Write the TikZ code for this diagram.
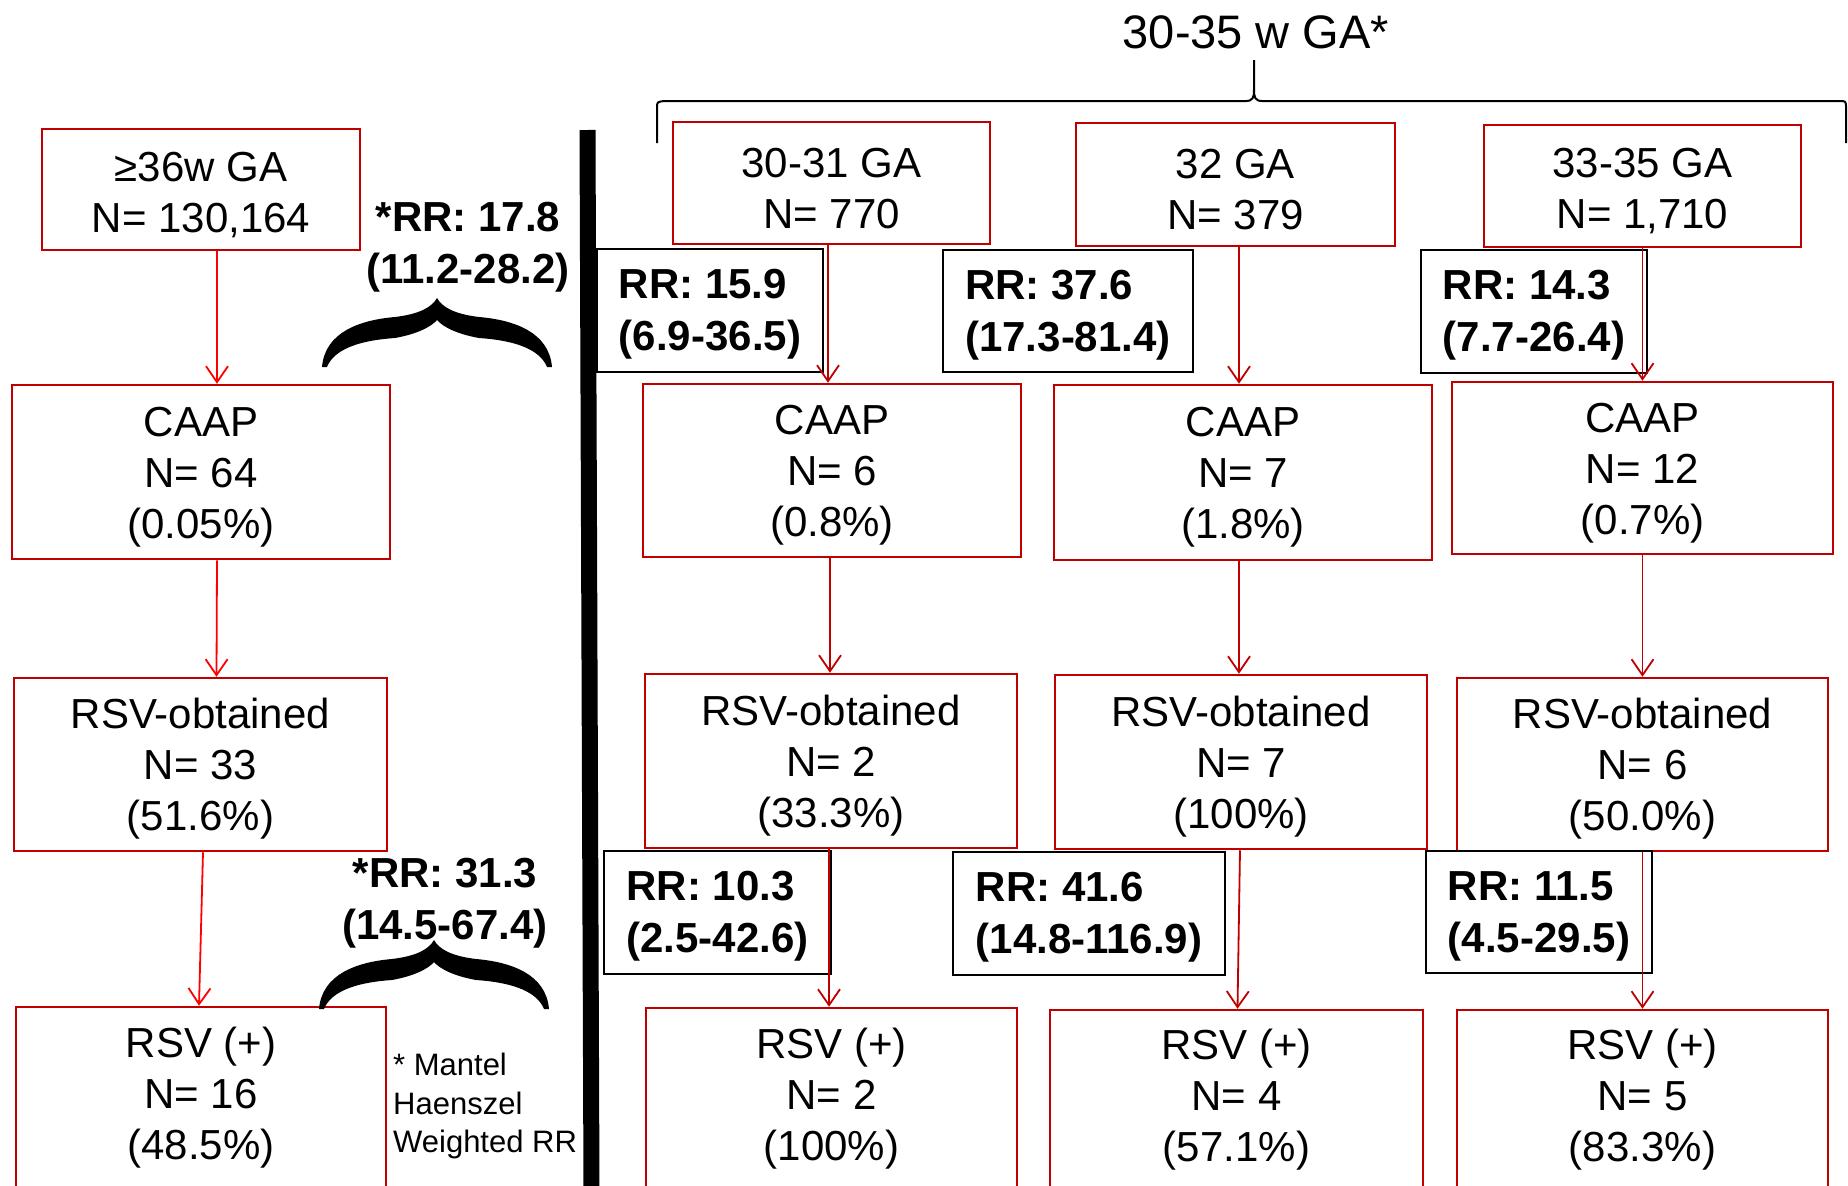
\documentclass[tikz,border=0pt]{standalone}
\usepackage{fontspec}
\setmainfont{Liberation Sans}
\usetikzlibrary{arrows.meta}
\definecolor{boxred}{RGB}{192,0,0}
\newcommand{\bxup}{\rule{0pt}{39.5pt}}
\newcommand{\rrup}{\rule{0pt}{37pt}}
\begin{document}
\begin{tikzpicture}[x=1pt,y=-1pt,
  box/.style={draw=boxred, line width=2.5pt, inner sep=0pt, align=center, font=\fontsize{42}{51}\selectfont},
  rrbox/.style={draw=black, line width=2pt, inner sep=0pt, align=left, font=\fontsize{42}{52}\selectfont\bfseries},
  rrlabel/.style={inner sep=0pt, align=center, font=\fontsize{42}{52}\selectfont\bfseries},
  arr/.style={draw=boxred, line width=1.8pt, -{Straight Barb[length=16pt,width=22pt]}},
  larr/.style={arr, draw=red},
  bw/.style 2 args={minimum width=#1pt, minimum height=#2pt},
  rrbrace/.pic={
    \fill (-115,68) .. controls (-112,33) and (-77,21) .. (-42,18)
      .. controls (-17,15) and (-5,8) .. (0,-1)
      .. controls (5,8) and (17,15) .. (42,18)
      .. controls (77,21) and (112,33) .. (115,68)
      -- (110,68) .. controls (102,48) and (72,41) .. (42,39)
      .. controls (20,35) and (6,28) .. (0,21)
      .. controls (-6,28) and (-20,35) .. (-42,39)
      .. controls (-72,41) and (-102,48) .. (-110,68) -- cycle;
  }
]
\useasboundingbox (0,0) rectangle (1848,1186);

% title and top brace
\node[font=\fontsize{47}{50}\selectfont, inner sep=0pt] (title) at (1256,32) {30-35 w GA*};
\draw[line width=2pt] (657,143) -- (657,108) .. controls (657,102) .. (664,101) -- (1246,101)
  .. controls (1253,101) and (1254,97) .. (1254,90) -- (1254,60);
\draw[line width=2pt] (1254,90) .. controls (1254,97) and (1255,101) .. (1262,101) -- (1839,101)
  .. controls (1846,101) .. (1846,108) -- (1846,143);

% separator bar
\draw[line width=16pt] (587.5,130) -- (591.5,1192);

% left column
\node[box, bw={318}{121}] (L1) at (201,189.5) {\bxup≥36w GA\\N= 130,164};
\node[box, bw={378}{174}] (L2) at (201,472) {\bxup CAAP\\N= 64\\(0.05\%)};
\node[box, bw={373}{173}] (L3) at (200.5,764.5) {\bxup RSV-obtained\\N= 33\\(51.6\%)};
\node[box, bw={370}{182}] (L4) at (201,1098) {RSV (+)\\N= 16\\(48.5\%)};

\draw[larr] ([xshift=16pt]L1.south) -- ([xshift=16pt]L2.north);
\draw[larr] ([xshift=16pt]L2.south) -- ([xshift=16pt]L3.north);
\draw[larr] ([xshift=2.5pt]L3.south) -- ([xshift=-2pt]L4.north);

\node[rrlabel] (RL1) at (468,247) {*RR: 17.8\\(11.2-28.2)};
\node[rrlabel] (RL2) at (445,903) {*RR: 31.3\\(14.5-67.4)};
\pic at (437,299) {rrbrace};
\pic at (434,941) {rrbrace};

\node[anchor=north west, inner sep=0pt, align=left, font=\fontsize{31}{38.5}\selectfont] (note) at (393,1053) {* Mantel\\Haenszel\\Weighted RR};

% column 30-31
\node[box, bw={317}{122}] (A1) at (831.5,183) {\bxup 30-31 GA\\N= 770};
\node[box, bw={378}{173}] (A2) at (832,470.5) {\bxup CAAP\\N= 6\\(0.8\%)};
\node[box, bw={372}{174}] (A3) at (831,761) {\bxup RSV-obtained\\N= 2\\(33.3\%)};
\node[box, bw={371}{181}] (A4) at (831.5,1098.5) {RSV (+)\\N= 2\\(100\%)};
\node[rrbox, bw={226}{123}] (RA1) at (710,310.5) {\rrup RR: 15.9\\(6.9-36.5)};
\node[rrbox, bw={227}{123}] (RA2) at (717.5,912.5) {\rrup RR: 10.3\\(2.5-42.6)};
\draw[arr] ([xshift=-3.5pt]A1.south) -- ([xshift=-4pt]A2.north);
\draw[arr] ([xshift=-2pt]A2.south) -- ([xshift=-1pt]A3.north);
\draw[arr] ([xshift=-2pt]A3.south) -- ([xshift=-2.5pt]A4.north);

% column 32
\node[box, bw={319}{123}] (B1) at (1235.5,184.5) {\bxup 32 GA\\N= 379};
\node[box, bw={378}{175}] (B2) at (1243,472.5) {\bxup CAAP\\N= 7\\(1.8\%)};
\node[box, bw={372}{174}] (B3) at (1241,762) {\bxup RSV-obtained\\N= 7\\(100\%)};
\node[box, bw={373}{179}] (B4) at (1236.5,1099.5) {RSV (+)\\N= 4\\(57.1\%)};
\node[rrbox, bw={250}{122}] (RB1) at (1068,311) {\rrup RR: 37.6\\(17.3-81.4)};
\node[rrbox, bw={272}{123}] (RB2) at (1089,913.5) {\rrup RR: 41.6\\(14.8-116.9)};
\draw[arr] ([xshift=3.5pt]B1.south) -- ([xshift=-4pt]B2.north);
\draw[arr] ([xshift=-4pt]B2.south) -- ([xshift=-2pt]B3.north);
\draw[arr] ([xshift=-1pt]B3.south) -- ([xshift=1pt]B4.north);

% column 33-35
\node[box, bw={317}{122}] (C1) at (1642.5,186) {\bxup 33-35 GA\\N= 1,710};
\node[box, bw={381}{172}] (C2) at (1642.5,468) {\bxup CAAP\\N= 12\\(0.7\%)};
\node[box, bw={371}{173}] (C3) at (1642.5,764.5) {\bxup RSV-obtained\\N= 6\\(50.0\%)};
\node[box, bw={371}{179}] (C4) at (1642.5,1099.5) {RSV (+)\\N= 5\\(83.3\%)};
\node[rrbox, bw={226}{123}] (RC1) at (1534,311.5) {\rrup RR: 14.3\\(7.7-26.4)};
\node[rrbox, bw={226}{122}] (RC2) at (1539,912) {\rrup RR: 11.5\\(4.5-29.5)};
\draw[arr] (C1.south) -- (C2.north);
\draw[arr] (C2.south) -- (C3.north);
\draw[arr] (C3.south) -- (C4.north);
\end{tikzpicture}
\end{document}
